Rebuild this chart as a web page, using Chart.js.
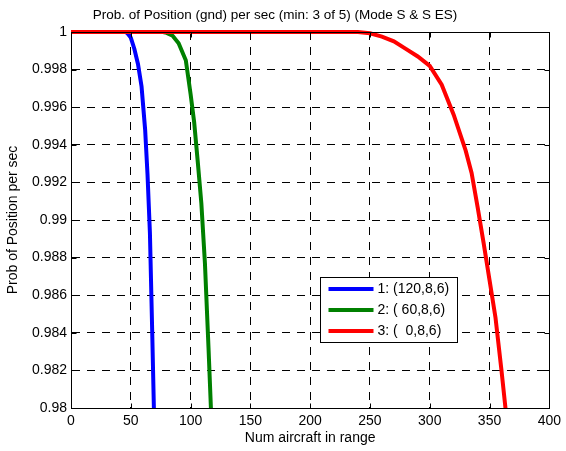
<!DOCTYPE html>
<html>
<head>
<meta charset="utf-8">
<script src="https://cdn.jsdelivr.net/npm/chart.js@4.4.0/dist/chart.umd.min.js"></script>
<style>
  html, body { margin: 0; padding: 0; background: #fff; }
</style>
</head>
<body>
<canvas id="chart" width="566" height="451"></canvas>
<script>
'use strict';

const seriesLabels = ['1: (120,8,6)', '2: ( 60,8,6)', '3: (  0,8,6)'];
const seriesColors = ['#0000ff', '#008000', '#ff0000'];

const blueX = [0, 45, 47, 50, 53, 56, 59, 62, 64, 66, 68, 70];
const blueY = [1, 1, 0.99995, 0.9997, 0.9991, 0.9983, 0.9971, 0.9948, 0.9924, 0.9893, 0.9838, 0.978];

const greenX = [0, 77, 80, 85, 90, 96, 100, 103, 106, 109, 112, 115, 117, 118];
const greenY = [1, 1, 0.99995, 0.9998, 0.9994, 0.9985, 0.9967, 0.9952, 0.9931, 0.9909, 0.9877, 0.9832, 0.98, 0.9784];

const redX = [0, 240, 250, 260, 270, 280, 290, 300, 310, 320, 330, 335, 340, 345, 350, 355, 360, 365];
const redY = [1, 1, 0.99993, 0.99975, 0.9995, 0.9991, 0.9987, 0.9982, 0.9972, 0.9956, 0.9937, 0.9925, 0.9907, 0.9888, 0.9868, 0.9848, 0.982, 0.979];

const xTicks = [0, 50, 100, 150, 200, 250, 300, 350, 400];
const yTicks = [0.98, 0.982, 0.984, 0.986, 0.988, 0.99, 0.992, 0.994, 0.996, 0.998, 1];

const FONT = 'Liberation Sans, Arial, sans-serif';

function toPoints(xs, ys) {
    return xs.map((x, i) => ({x: x, y: ys[i]}));
}

function makeSet(i, xs, ys) {
    return {
        label: seriesLabels[i],
        data: toPoints(xs, ys),
        borderColor: seriesColors[i],
        backgroundColor: seriesColors[i],
        borderWidth: 4,
        pointRadius: 0,
        tension: 0,
        order: 3 - i,
        clip: {left: 0, top: 3, right: 0, bottom: 0}
    };
}

// box around the axes, inward ticks, and the legend inside the plot
const frameAndLegend = {
    id: 'frameAndLegend',
    afterDatasetsDraw(chart) {
        const ctx = chart.ctx;
        const a = chart.chartArea;
        const l = Math.round(a.left) + 0.5, r = Math.round(a.right) + 0.5;
        const t = Math.round(a.top) + 0.5, b = Math.round(a.bottom) + 0.5;
        ctx.save();
        ctx.strokeStyle = '#000';
        ctx.lineWidth = 1;
        ctx.setLineDash([]);
        ctx.strokeRect(l, t, r - l, b - t);

        ctx.beginPath();
        chart.scales.x.ticks.forEach(tk => {
            const px = Math.round(chart.scales.x.getPixelForValue(tk.value)) + 0.5;
            ctx.moveTo(px, b); ctx.lineTo(px, b - 5);
            ctx.moveTo(px, t); ctx.lineTo(px, t + 5);
        });
        chart.scales.y.ticks.forEach(tk => {
            const py = Math.round(chart.scales.y.getPixelForValue(tk.value)) + 0.5;
            ctx.moveTo(l, py); ctx.lineTo(l + 5, py);
            ctx.moveTo(r, py); ctx.lineTo(r - 5, py);
        });
        ctx.stroke();

        // legend
        const bx = Math.round(a.left + 249) + 0.5;
        const by = Math.round(a.top + 245) + 0.5;
        const bw = 137, bh = 65;
        ctx.fillStyle = '#fff';
        ctx.fillRect(bx, by, bw, bh);
        ctx.strokeRect(bx, by, bw, bh);
        ctx.font = '14px ' + FONT;
        ctx.textBaseline = 'middle';
        ctx.textAlign = 'left';
        chart.data.datasets.forEach((ds, i) => {
            const yy = by + 11.5 + i * 21;
            ctx.strokeStyle = ds.borderColor;
            ctx.lineWidth = 4;
            ctx.beginPath();
            ctx.moveTo(bx + 8, yy);
            ctx.lineTo(bx + 53, yy);
            ctx.stroke();
            ctx.fillStyle = '#000';
            ctx.fillText(ds.label, bx + 57, yy);
        });
        ctx.restore();
    }
};

const ctx = document.getElementById('chart').getContext('2d');

new Chart(ctx, {
    type: 'line',
    data: {
        datasets: [
            makeSet(0, blueX, blueY),
            makeSet(1, greenX, greenY),
            makeSet(2, redX, redY)
        ]
    },
    options: {
        responsive: false,
        animation: false,
        devicePixelRatio: 1,
        layout: {padding: {left: 0, right: 16, top: 0, bottom: 0}},
        plugins: {
            legend: {display: false},
            tooltip: {enabled: false},
            title: {
                display: true,
                text: 'Prob. of Position (gnd) per sec (min: 3 of 5) (Mode S & S ES)',
                color: '#000',
                font: {family: FONT, size: 13.5, weight: 'normal'},
                padding: {top: 7.5, bottom: 8.3}
            }
        },
        scales: {
            x: {
                type: 'linear',
                min: 0,
                max: 400,
                afterBuildTicks: s => { s.ticks = xTicks.map(v => ({value: v})); },
                afterFit: s => { s.height = 43; },
                grid: {color: '#000', lineWidth: 1, drawTicks: false},
                border: {display: true, color: '#000', width: 1, dash: [8, 7]},
                ticks: {color: '#000', font: {family: FONT, size: 14}, padding: 5, maxRotation: 0},
                title: {display: true, text: 'Num aircraft in range', color: '#000',
                        font: {family: FONT, size: 14}, padding: {top: 0, bottom: 4}}
            },
            y: {
                type: 'linear',
                min: 0.98,
                max: 1,
                afterBuildTicks: s => { s.ticks = yTicks.map(v => ({value: v})); },
                afterFit: s => { s.width = 71; },
                grid: {color: '#000', lineWidth: 1, drawTicks: false},
                border: {display: true, color: '#000', width: 1, dash: [8, 7]},
                ticks: {color: '#000', font: {family: FONT, size: 14}, padding: 4,
                        callback: v => String(+v.toFixed(3))},
                title: {display: true, text: 'Prob of Position per sec', color: '#000',
                        font: {family: FONT, size: 14}, padding: {top: 5, bottom: 0}}
            }
        }
    },
    plugins: [frameAndLegend]
});
</script>
</body>
</html>
